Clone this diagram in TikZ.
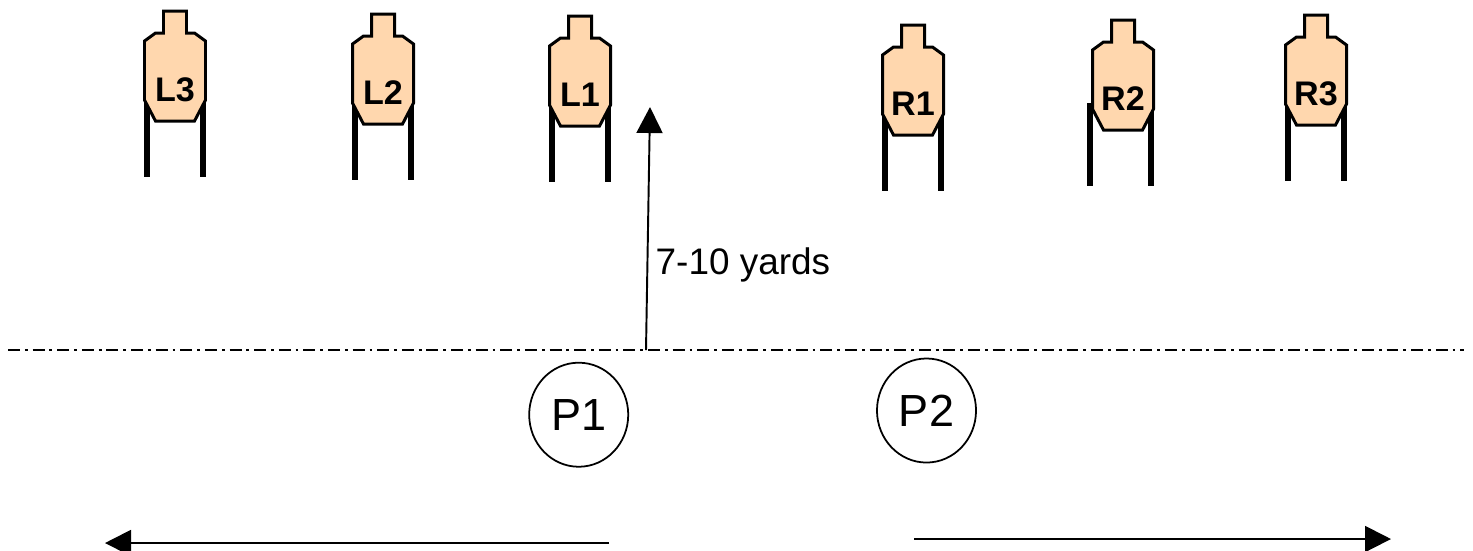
\documentclass[tikz,border=0pt]{standalone}
\usepackage{fontspec}
\setmainfont{Liberation Sans}
\usetikzlibrary{arrows.meta}
\usetikzlibrary{shapes.geometric}
\definecolor{targetfill}{HTML}{FFD7AE}
\tikzset{
  targetbody/.style={draw=black,line width=0.85pt,fill=targetfill,line join=miter},
  targetleg/.style={line width=1.7pt},
  targetname/.style={font=\fontsize{9.7pt}{11pt}\selectfont\bfseries,inner sep=0pt},
  shooter/.style={draw,ellipse,line width=0.5pt,minimum width=0.99cm,minimum height=1.04cm,inner sep=0pt,font=\fontsize{12.8pt}{14pt}\selectfont},
  lineflow/.style={line width=0.55pt,-{Triangle[length=0.26cm,width=0.26cm]}},
  firingline/.style={line width=0.45pt,dash pattern=on 3.4pt off 1.4pt on 0.8pt off 1.4pt},
}
\begin{document}
\begin{tikzpicture}[x=0.01cm,y=-0.01cm]
    \useasboundingbox (0,0) rectangle (1473,550);

    \foreach \x/\y/\leg/\name in {175/11/28/L3,383/14/28/L2,580/16/28/L1,913/25/28/R1,1123/20/33/R2,1316/15/28/R3}
    {
      \draw [targetleg] (\x-\leg,\y+83) -- ++(0,83);
      \draw [targetleg] (\x+28,\y+83) -- ++(0,83);
      \draw [targetbody] (\x-11.5,\y) -- ++(23,0) -- ++(0,22) -- ++(8,0) -- ++(11,8)
        -- ++(0,59) -- ++(-11,21) -- ++(-39,0) -- ++(-11,-21) -- ++(0,-59) -- ++(11,-8)
        -- ++(8,0) -- cycle;
      \node [targetname] (\name) at (\x,\y+79) {\name};
    }

    \coordinate (lineL) at (8,350);
    \coordinate (lineR) at (1464,350);
    \coordinate (yardsA) at (646,350);
    \coordinate (yardsB) at (650,107);
    \coordinate (moveLA) at (609,543);
    \coordinate (moveLB) at (105,543);
    \coordinate (moveRA) at (914,539);
    \coordinate (moveRB) at (1391,539);

    \draw [firingline] (lineL) -- (lineR);
    \draw [lineflow] (yardsA) -- (yardsB);
    \draw [lineflow] (moveLA) -- (moveLB);
    \draw [lineflow] (moveRA) -- (moveRB);

    \node [anchor=west,inner sep=0pt,font=\fontsize{10.5pt}{12pt}\selectfont] (yards) at (655,265) {7-10 yards};

    \node [shooter] (P1) at (578.7,414.7) {P1};
    \node [shooter] (P2) at (926.5,410.5) {P2};
\end{tikzpicture}
\end{document}
